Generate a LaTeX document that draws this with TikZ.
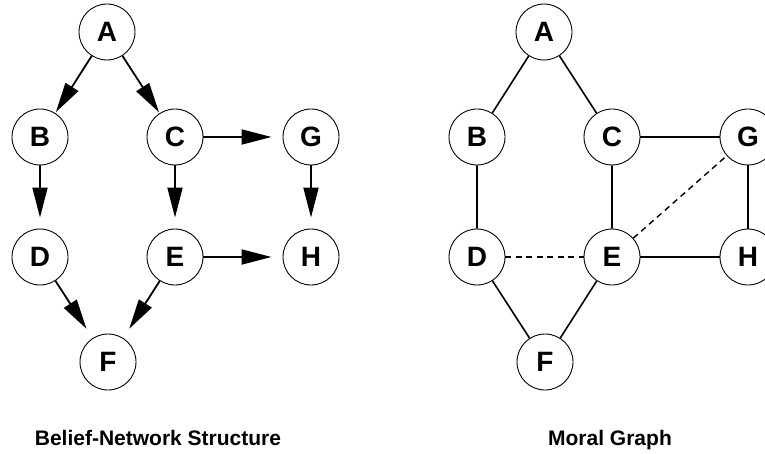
\documentclass[tikz,border=0pt]{standalone}
\usepackage{fontspec}
\setmainfont{Liberation Sans}
\usetikzlibrary{arrows.meta,positioning}
\tikzset{
  vnode/.style={circle,draw,line width=0.9pt,minimum size=56pt,inner sep=0pt,
    font=\bfseries\fontsize{28}{28}\selectfont},
  dirarc/.style={line width=1.8pt,-{Triangle[length=30pt,width=15pt]},shorten >=11pt},
  undarc/.style={line width=1.6pt},
  addarc/.style={line width=1.4pt,dash pattern=on 6pt off 4.5pt},
  caption/.style={anchor=base,font=\bfseries\fontsize{21}{25}\selectfont}
}
\begin{document}
\begin{tikzpicture}[on grid]
        \useasboundingbox (0,0) rectangle (765pt,453pt);
        % belief network
        \node[vnode] (A) at (107pt,421pt) {A};
        \node[vnode, below left=105pt and 67pt of A] (B) {B};
        \node[vnode, right=135pt of B] (C) {C};
        \node[vnode, right=136pt of C] (G) {G};
        \node[vnode, below=120pt of B] (D) {D};
        \node[vnode, below=120pt of C] (E) {E};
        \node[vnode, below=120pt of G] (H) {H};
        \node[vnode, below right=105pt and 68pt of D] (F) {F};
        \draw[dirarc, shorten >=1pt] (A) -- (B);
        \draw[dirarc, shorten >=1pt] (A) -- (C);
        \draw[dirarc] (B) -- (D);
        \draw[dirarc] (C) -- (E);
        \draw[dirarc] (C) -- (G);
        \draw[dirarc] (G) -- (H);
        \draw[dirarc] (E) -- (H);
        \draw[dirarc] (D) -- (F);
        \draw[dirarc] (E) -- (F);
        \node[caption] (Cap) at (158pt,8pt) {Belief-Network Structure};
        % moral graph
        \node[vnode] (AA) at (544pt,421pt) {A};
        \node[vnode, below left=105pt and 67pt of AA] (BB) {B};
        \node[vnode, right=135pt of BB] (CC) {C};
        \node[vnode, right=136pt of CC] (GG) {G};
        \node[vnode, below=120pt of BB] (DD) {D};
        \node[vnode, below=120pt of CC] (EE) {E};
        \node[vnode, below=120pt of GG] (HH) {H};
        \node[vnode, below right=105pt and 68pt of DD] (FF) {F};
        \draw[undarc] (AA) -- (BB) -- (DD) -- (FF) -- (EE) -- (CC) -- (AA);
        \draw[undarc] (CC) -- (GG) -- (HH) -- (EE);
        \draw[addarc] (DD) -- (EE);
        \draw[addarc] (EE) -- (GG);
        \node[caption] (CCap) at (610pt,8pt) {Moral Graph};
\end{tikzpicture}
\end{document}
